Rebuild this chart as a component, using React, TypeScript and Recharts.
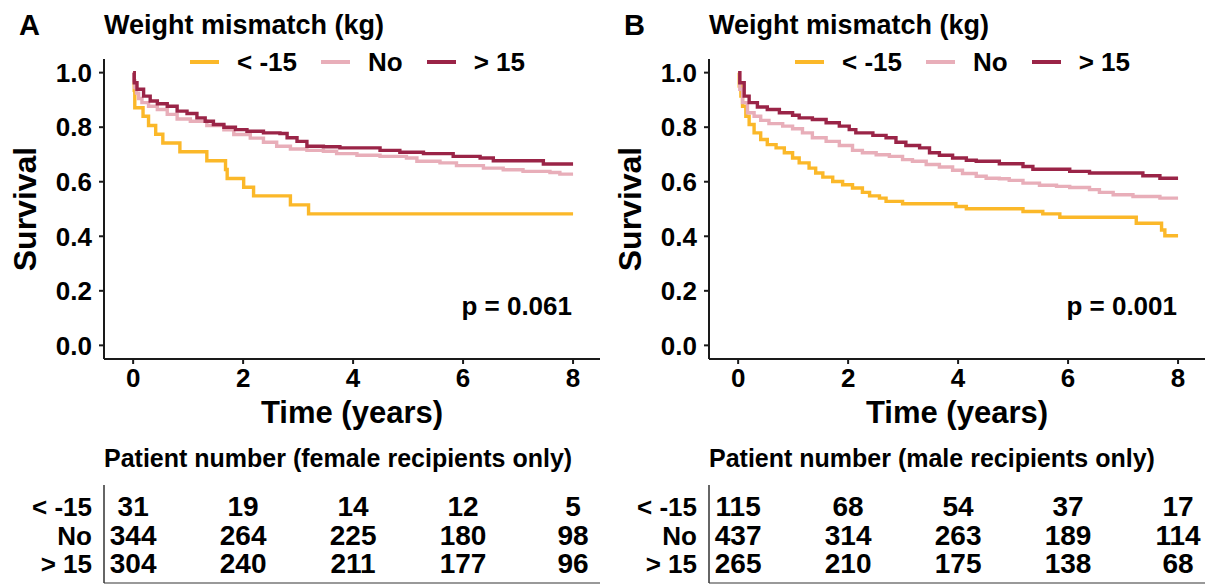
import { LineChart, Line, XAxis, YAxis, Legend, ScatterChart, Scatter } from "recharts";

const FONT = "'Liberation Sans', Arial, sans-serif";

const groups = ["< -15", "No", "> 15"];
const colors = ["#FBB829", "#E8AEB9", "#9A2447"];
const timeTicks = [0, 2, 4, 6, 8];
const survivalTicks = [0, 0.2, 0.4, 0.6, 0.8, 1.0];

// Panel A: female recipients, [time in years, survival]
const femaleLow = [
  [0, 1], [0.02, 0.935], [0.03, 0.871], [0.18, 0.84], [0.28, 0.806], [0.41, 0.774], [0.54, 0.742],
  [0.85, 0.71], [1.34, 0.677], [1.68, 0.645], [1.71, 0.612], [2.01, 0.58], [2.19, 0.548],
  [2.86, 0.515], [3.19, 0.482], [8, 0.482],
];
const femaleNo = [
  [0, 1], [0.01, 0.97], [0.03, 0.945], [0.06, 0.925], [0.1, 0.905], [0.16, 0.89], [0.28, 0.877],
  [0.44, 0.865], [0.62, 0.847], [0.8, 0.83], [1.04, 0.822], [1.34, 0.806], [1.65, 0.79],
  [1.83, 0.773], [2.13, 0.76], [2.37, 0.745], [2.61, 0.73], [2.86, 0.72], [3.16, 0.715],
  [3.46, 0.712], [3.7, 0.703], [4.07, 0.697], [4.49, 0.693], [4.97, 0.687], [5.16, 0.675],
  [5.58, 0.669], [5.88, 0.659], [6.37, 0.65], [6.73, 0.644], [7.09, 0.638], [7.58, 0.634],
  [7.76, 0.628], [8, 0.628],
];
const femaleHigh = [
  [0, 1], [0.02, 0.963], [0.07, 0.939], [0.19, 0.914], [0.31, 0.896], [0.44, 0.886], [0.62, 0.877],
  [0.8, 0.859], [0.98, 0.85], [1.16, 0.834], [1.31, 0.822], [1.46, 0.81], [1.65, 0.8],
  [1.86, 0.791], [2.07, 0.785], [2.37, 0.779], [2.67, 0.777], [2.8, 0.761], [2.98, 0.748],
  [3.16, 0.73], [3.46, 0.728], [3.76, 0.724], [4.49, 0.715], [4.85, 0.708], [5.28, 0.703],
  [5.82, 0.693], [6.31, 0.687], [6.55, 0.677], [7.46, 0.665], [8, 0.665],
];

// Panel B: male recipients
const maleLow = [
  [0, 1], [0.02, 0.951], [0.05, 0.914], [0.08, 0.877], [0.14, 0.84], [0.2, 0.81], [0.29, 0.779],
  [0.41, 0.755], [0.53, 0.736], [0.69, 0.724], [0.84, 0.706], [0.99, 0.687], [1.11, 0.669],
  [1.29, 0.65], [1.41, 0.632], [1.54, 0.617], [1.72, 0.601], [1.9, 0.589], [2.08, 0.577],
  [2.26, 0.561], [2.39, 0.548], [2.57, 0.54], [2.69, 0.528], [2.99, 0.519], [3.96, 0.509],
  [4.15, 0.501], [5.18, 0.491], [5.54, 0.482], [5.85, 0.47], [7.24, 0.448], [7.7, 0.423],
  [7.76, 0.402], [8, 0.402],
];
const maleNo = [
  [0, 1], [0.03, 0.939], [0.08, 0.89], [0.17, 0.853], [0.29, 0.84], [0.41, 0.825], [0.56, 0.813],
  [0.81, 0.804], [0.99, 0.794], [1.17, 0.779], [1.35, 0.761], [1.6, 0.748], [1.84, 0.733],
  [2.08, 0.715], [2.26, 0.706], [2.51, 0.699], [2.75, 0.693], [2.99, 0.681], [3.17, 0.675],
  [3.42, 0.663], [3.66, 0.654], [3.9, 0.642], [4.08, 0.63], [4.33, 0.62], [4.51, 0.613],
  [4.75, 0.611], [4.93, 0.605], [5.18, 0.595], [5.48, 0.587], [5.79, 0.583], [6.03, 0.579],
  [6.39, 0.571], [6.57, 0.561], [6.82, 0.552], [7.18, 0.546], [7.67, 0.54], [8, 0.54],
];
const maleHigh = [
  [0, 1], [0.03, 0.963], [0.11, 0.914], [0.2, 0.89], [0.35, 0.874], [0.53, 0.865], [0.75, 0.853],
  [0.99, 0.844], [1.11, 0.834], [1.35, 0.828], [1.6, 0.816], [1.84, 0.804], [2.02, 0.791],
  [2.14, 0.779], [2.45, 0.77], [2.69, 0.761], [2.87, 0.745], [3.05, 0.733], [3.3, 0.724],
  [3.48, 0.706], [3.66, 0.697], [3.9, 0.687], [4.15, 0.679], [4.33, 0.675], [4.75, 0.666],
  [5.18, 0.656], [5.36, 0.646], [6.03, 0.638], [6.39, 0.632], [7.36, 0.622], [7.67, 0.613],
  [8, 0.613],
];

// numbers at risk at 0, 2, 4, 6, 8 years
const femaleAtRisk = [
  [31, 19, 14, 12, 5],
  [344, 264, 225, 180, 98],
  [304, 240, 211, 177, 96],
];
const maleAtRisk = [
  [115, 68, 54, 37, 17],
  [437, 314, 263, 189, 114],
  [265, 210, 175, 138, 68],
];

const X_DOMAIN = [-0.53, 8.49];
const boldTick = (size: number) => ({ fontSize: size, fontWeight: "bold", fill: "#000", fontFamily: FONT });

const renderLegend = ({ payload }: any) => {
  const items = [...(payload || [])].sort((a, b) => groups.indexOf(a.value) - groups.indexOf(b.value));
  return (
    <div style={{ display: "flex", alignItems: "center", height: 34, gap: 24, fontFamily: FONT, fontWeight: "bold", fontSize: 26 }}>
      {items.map((e: any) => (
        <div key={e.value} style={{ display: "flex", alignItems: "center" }}>
          <div style={{ width: 29, height: 4, background: e.color, marginRight: 18 }} />
          <span>{e.value}</span>
        </div>
      ))}
    </div>
  );
};

const RiskNumber = (props: any) => (
  <text x={props.cx} y={props.cy} textAnchor="middle" dominantBaseline="central" fontSize={28} fontWeight="bold" fill="#000">
    {props.payload.n}
  </text>
);

const KMPanel = ({ left, letter, curves, p, atRisk, heading }: any) => {
  const series = curves.map((c: number[][]) => c.map(([t, s]) => ({ t, s })));
  const riskData = atRisk.flatMap((row: number[], i: number) =>
    row.map((n, j) => ({ t: timeTicks[j], row: i + 1, n }))
  );

  return (
    <div style={{ position: "absolute", left, top: 0, width: 604, height: 585 }}>
      <svg style={{ position: "absolute", left: 0, top: 0 }} width={604} height={585}>
        <text x={19} y={35} fontSize={29} fontWeight="bold">{letter}</text>
        <text x={104} y={34} fontSize={27} fontWeight="bold">Weight mismatch (kg)</text>
        <text x={572} y={315} fontSize={26} fontWeight="bold" textAnchor="end">p = {p}</text>
        <text x={104} y={467} fontSize={25} fontWeight="bold">{heading}</text>
      </svg>

      <div style={{ position: "absolute", left: 0, top: 0 }}>
        <LineChart width={604} height={440} margin={{ top: 59, right: 4, bottom: 0, left: 0 }}>
          <XAxis
            type="number"
            dataKey="t"
            domain={X_DOMAIN}
            ticks={timeTicks}
            interval={0}
            allowDataOverflow
            height={81}
            tickSize={5}
            tickMargin={5}
            stroke="#1a1a1a"
            strokeWidth={2}
            tick={boldTick(26)}
            label={{ value: "Time (years)", position: "insideBottom", offset: 17, fontSize: 31, fontWeight: "bold", fill: "#000" }}
          />
          <YAxis
            type="number"
            domain={[-0.05, 1.05]}
            ticks={survivalTicks}
            interval={0}
            width={104}
            tickSize={5}
            tickMargin={7}
            stroke="#1a1a1a"
            strokeWidth={2}
            tickFormatter={(v: number) => v.toFixed(1)}
            tick={boldTick(26)}
            label={{ value: "Survival", angle: -90, position: "insideLeft", offset: 25, fontSize: 32, fontWeight: "bold", fill: "#000", style: { textAnchor: "middle" } }}
          />
          <Legend
            layout="horizontal"
            verticalAlign="middle"
            align="center"
            content={renderLegend}
            wrapperStyle={{ position: "absolute", top: 45, left: 190, width: 400, height: 34 }}
          />
          {series.map((d: any, i: number) => (
            <Line
              key={groups[i]}
              data={d}
              dataKey="s"
              name={groups[i]}
              type="stepAfter"
              stroke={colors[i]}
              strokeWidth={3.4}
              dot={false}
              activeDot={false}
              isAnimationActive={false}
            />
          ))}
        </LineChart>
      </div>

      <div style={{ position: "absolute", left: 0, top: 480 }}>
        <ScatterChart width={604} height={105} margin={{ top: 5, right: 4, bottom: 0, left: 0 }}>
          <XAxis type="number" dataKey="t" domain={X_DOMAIN} tick={false} tickLine={false} height={2} stroke="#777" strokeWidth={1.5} />
          <YAxis
            type="number"
            dataKey="row"
            domain={[0.23, 3.67]}
            reversed
            ticks={[1, 2, 3]}
            interval={0}
            tickFormatter={(v: number) => groups[v - 1]}
            tickSize={0}
            tickMargin={12}
            width={104}
            stroke="#333"
            strokeWidth={1.5}
            tick={boldTick(26)}
          />
          <Scatter data={riskData} shape={RiskNumber} isAnimationActive={false} />
        </ScatterChart>
      </div>
    </div>
  );
};

export default function App() {
  return (
    <div style={{ position: "absolute", left: 0, top: 0, width: 1208, height: 585, background: "#fff", fontFamily: FONT, fontWeight: "bold", overflow: "hidden" }}>
      <KMPanel
        left={0}
        letter="A"
        curves={[femaleLow, femaleNo, femaleHigh]}
        p="0.061"
        atRisk={femaleAtRisk}
        heading="Patient number (female recipients only)"
      />
      <KMPanel
        left={605}
        letter="B"
        curves={[maleLow, maleNo, maleHigh]}
        p="0.001"
        atRisk={maleAtRisk}
        heading="Patient number (male recipients only)"
      />
    </div>
  );
}
